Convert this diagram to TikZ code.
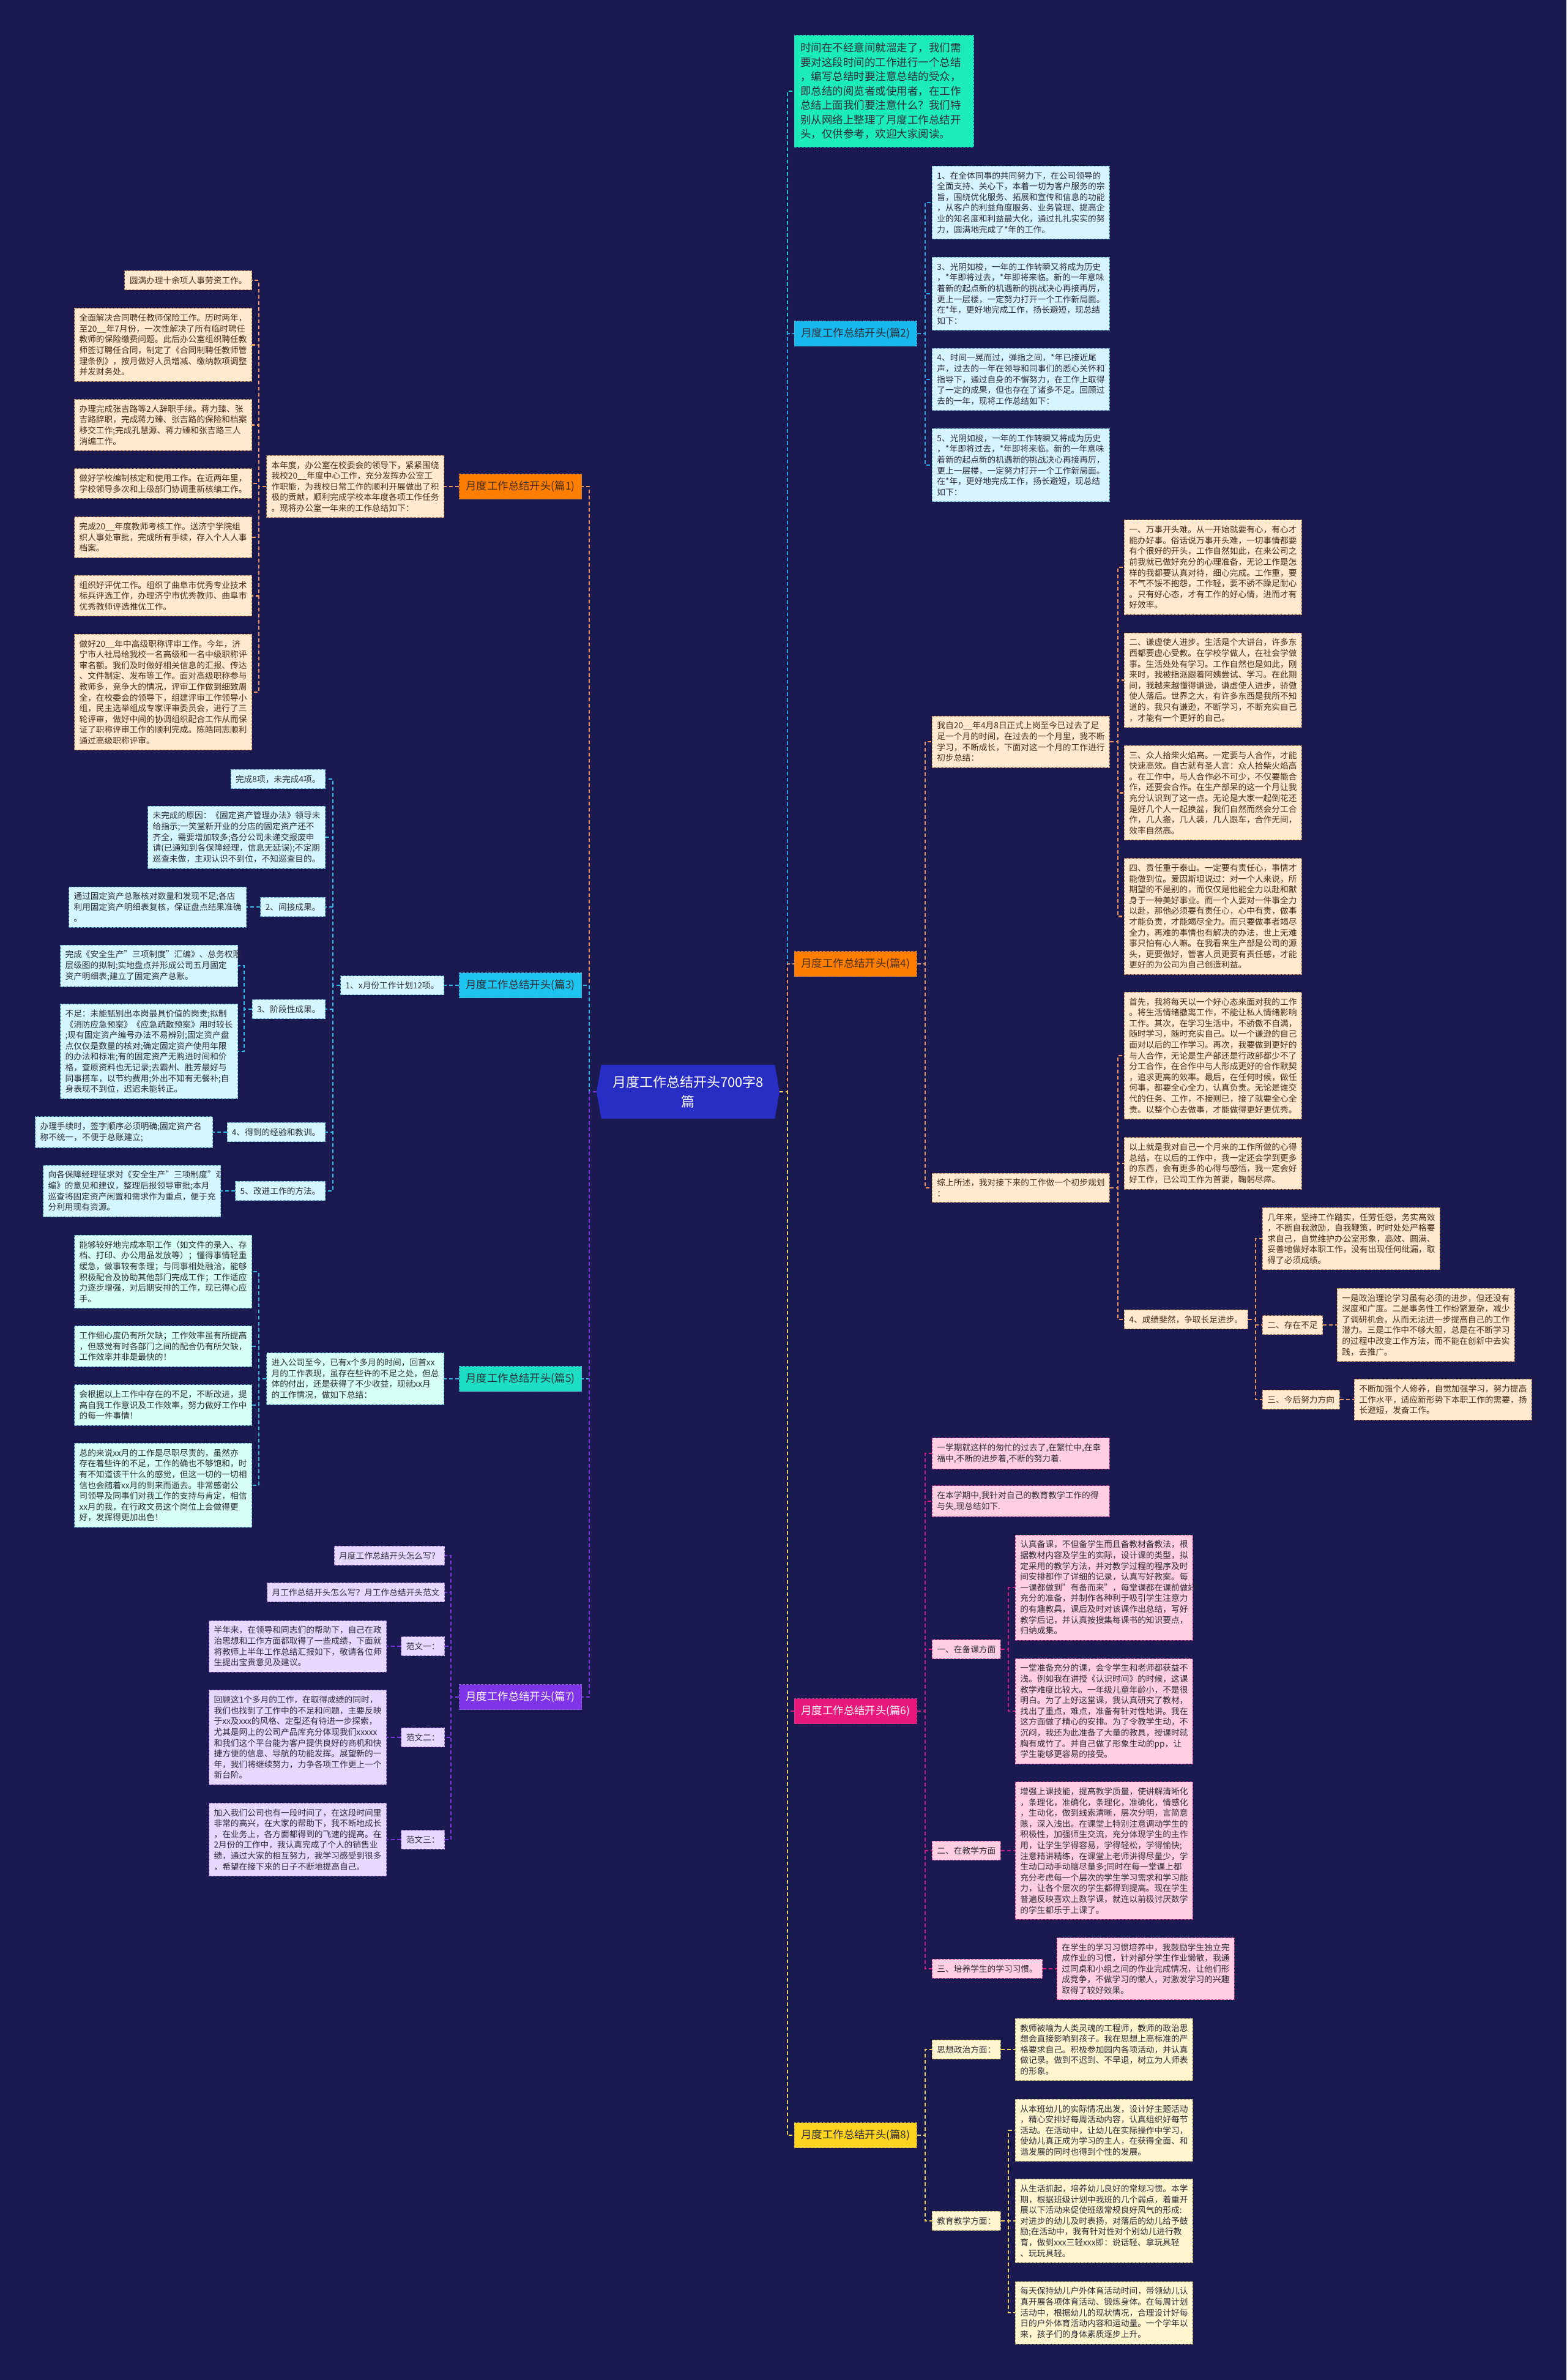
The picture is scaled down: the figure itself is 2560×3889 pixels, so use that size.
\documentclass[tikz,border=0pt]{standalone}
\usepackage{fontspec}
\setmainfont{Noto Sans CJK SC}
\usetikzlibrary{shapes.symbols}

\definecolor{bgnavy}{RGB}{26,26,80}
\definecolor{rootblue}{RGB}{40,46,196}
\definecolor{inkgray}{RGB}{45,45,55}
\definecolor{orfill}{RGB}{255,126,0}
\definecolor{orpale}{RGB}{255,234,208}
\definecolor{ordash}{RGB}{190,130,80}
\definecolor{orink}{RGB}{70,45,30}
\definecolor{orwire}{RGB}{236,150,95}
\definecolor{cyfill}{RGB}{30,196,240}
\definecolor{cypale}{RGB}{212,246,255}
\definecolor{cydash}{RGB}{90,170,205}
\definecolor{cywire}{RGB}{50,190,238}
\definecolor{bufill}{RGB}{22,184,238}
\definecolor{bupale}{RGB}{214,244,255}
\definecolor{buwire}{RGB}{40,165,230}
\definecolor{mtfill}{RGB}{28,222,196}
\definecolor{mtpale}{RGB}{214,255,246}
\definecolor{mtwire}{RGB}{60,180,225}
\definecolor{pufill}{RGB}{128,52,232}
\definecolor{pupale}{RGB}{230,216,255}
\definecolor{pudash}{RGB}{140,100,210}
\definecolor{puwire}{RGB}{125,55,225}
\definecolor{pkfill}{RGB}{232,24,124}
\definecolor{pkpale}{RGB}{255,206,226}
\definecolor{pkdash}{RGB}{200,60,140}
\definecolor{pkwire}{RGB}{205,30,130}
\definecolor{yefill}{RGB}{255,212,30}
\definecolor{yepale}{RGB}{255,246,208}
\definecolor{yedash}{RGB}{180,160,90}
\definecolor{yewire}{RGB}{238,208,90}
\definecolor{grfill}{RGB}{28,236,186}
\definecolor{grwire}{RGB}{40,205,190}

\newcommand\leaffont{\fontsize{13.7pt}{17.6pt}\selectfont}
\newcommand\topicfont{\fontsize{17.4pt}{21pt}\selectfont}
\newcommand\introfont{\fontsize{17.5pt}{23.5pt}\selectfont}
\newcommand\rootfont{\fontsize{22pt}{32pt}\selectfont}

\begin{document}
\begin{tikzpicture}[x=1pt,y=-1pt]
\tikzset{
  leaf/.style={rectangle,draw,dash pattern=on 4pt off 2pt,line width=0.9pt,inner xsep=8pt,inner ysep=9.2pt,font=\leaffont,align=left},
  widebox/.style={text width=274pt},
  topic/.style={rectangle,draw,dash pattern=on 4pt off 2pt,line width=0.9pt,minimum width=200pt,minimum height=41pt,inner sep=0pt,font=\topicfont},
  linkline/.style={line width=2.2pt,dash pattern=on 6pt off 4pt},
  rootnode/.style={signal,signal to=east and west,signal pointer angle=160,fill=rootblue,text=white,minimum width=299pt,minimum height=88pt,inner sep=2pt,font=\rootfont,align=center},
  introbox/.style={rectangle,draw=grwire,dash pattern=on 4pt off 2pt,line width=0.9pt,fill=grfill,text=inkgray,inner xsep=10pt,inner ysep=12.5pt,font=\introfont,align=left,text width=273pt},
  orleaf/.style={leaf,fill=orpale,draw=ordash,text=orink},
  cyleaf/.style={leaf,fill=cypale,draw=cydash,text=inkgray},
  buleaf/.style={leaf,fill=bupale,draw=cydash,text=inkgray},
  mtleaf/.style={leaf,fill=mtpale,draw=cydash,text=inkgray},
  puleaf/.style={leaf,fill=pupale,draw=pudash,text=inkgray},
  pkleaf/.style={leaf,fill=pkpale,draw=pkdash,text=inkgray},
  yeleaf/.style={leaf,fill=yepale,draw=yedash,text=inkgray},
  ortopic/.style={topic,fill=orfill,draw=ordash,text=orink},
  cytopic/.style={topic,fill=cyfill,draw=cydash,text=inkgray},
  butopic/.style={topic,fill=bufill,draw=cydash,text=inkgray},
  mttopic/.style={topic,fill=mtfill,draw=cydash,text=inkgray},
  putopic/.style={topic,fill=pufill,draw=pudash,text=white},
  pktopic/.style={topic,fill=pkfill,draw=pkdash,text=white},
  yetopic/.style={topic,fill=yefill,draw=yedash,text=inkgray}
}
\fill[bgnavy] (0,0) rectangle (2560,3889);
\useasboundingbox (0,0) rectangle (2560,3889);

\node[rootnode] (n_root) at (1124.5,1784) {月度工作总结开头700字8\\篇};

\node[introbox,anchor=west] (n_intro) at (1298,149) {时间在不经意间就溜走了，我们需\\要对这段时间的工作进行一个总结\\，编写总结时要注意总结的受众，\\即总结的阅览者或使用者，在工作\\总结上面我们要注意什么？我们特\\别从网络上整理了月度工作总结开\\头，仅供参考，欢迎大家阅读。};

\node[ortopic,anchor=east] (n_p1) at (951,795) {月度工作总结开头(篇1)};
\node[orleaf,widebox,anchor=east] (n_p1_lead) at (726,795) {本年度，办公室在校委会的领导下，紧紧围绕\\我校20\_\_年度中心工作，充分发挥办公室工\\作职能，为我校日常工作的顺利开展做出了积\\极的贡献，顺利完成学校本年度各项工作任务\\。现将办公室一年来的工作总结如下：};
\node[orleaf,anchor=east] (n_p1_a) at (412,458) {圆满办理十余项人事劳资工作。};
\node[orleaf,widebox,anchor=east] (n_p1_b) at (412,563.5) {全面解决合同聘任教师保险工作。历时两年，\\至20\_\_年7月份，一次性解决了所有临时聘任\\教师的保险缴费问题。此后办公室组织聘任教\\师签订聘任合同，制定了《合同制聘任教师管\\理条例》，按月做好人员增减、缴纳款项调整\\并发财务处。};
\node[orleaf,widebox,anchor=east] (n_p1_c) at (412,694.5) {办理完成张吉路等2人辞职手续。蒋力臻、张\\吉路辞职，完成蒋力臻、张吉路的保险和档案\\移交工作;完成孔慧源、蒋力臻和张吉路三人\\消编工作。};
\node[orleaf,widebox,anchor=east] (n_p1_d) at (412,790) {做好学校编制核定和使用工作。在近两年里，\\学校领导多次和上级部门协调重新核编工作。};
\node[orleaf,widebox,anchor=east] (n_p1_e) at (412,878) {完成20\_\_年度教师考核工作。送济宁学院组\\织人事处审批，完成所有手续，存入个人人事\\档案。};
\node[orleaf,widebox,anchor=east] (n_p1_f) at (412,973.5) {组织好评优工作。组织了曲阜市优秀专业技术\\标兵评选工作，办理济宁市优秀教师、曲阜市\\优秀教师评选推优工作。};
\node[orleaf,widebox,anchor=east] (n_p1_g) at (412,1131) {做好20\_\_年中高级职称评审工作。今年，济\\宁市人社局给我校一名高级和一名中级职称评\\审名额。我们及时做好相关信息的汇报、传达\\、文件制定、发布等工作。面对高级职称参与\\教师多，竞争大的情况，评审工作做到细致周\\全，在校委会的领导下，组建评审工作领导小\\组，民主选举组成专家评审委员会，进行了三\\轮评审，做好中间的协调组织配合工作从而保\\证了职称评审工作的顺利完成。陈皓同志顺利\\通过高级职称评审。};

\node[butopic,anchor=west] (n_p2) at (1298,545) {月度工作总结开头(篇2)};
\node[buleaf,widebox,anchor=west] (n_p2_a) at (1523,331) {1、在全体同事的共同努力下，在公司领导的\\全面支持、关心下，本着一切为客户服务的宗\\旨，围绕优化服务、拓展和宣传和信息的功能\\，从客户的利益角度服务、业务管理、提高企\\业的知名度和利益最大化，通过扎扎实实的努\\力，圆满地完成了*年的工作。};
\node[buleaf,widebox,anchor=west] (n_p2_b) at (1523,480) {3、光阴如梭，一年的工作转瞬又将成为历史\\，*年即将过去，*年即将来临。新的一年意味\\着新的起点新的机遇新的挑战决心再接再厉，\\更上一层楼，一定努力打开一个工作新局面。\\在*年，更好地完成工作，扬长避短，现总结\\如下：};
\node[buleaf,widebox,anchor=west] (n_p2_c) at (1523,620) {4、时间一晃而过，弹指之间，*年已接近尾\\声，过去的一年在领导和同事们的悉心关怀和\\指导下，通过自身的不懈努力，在工作上取得\\了一定的成果，但也存在了诸多不足。回顾过\\去的一年，现将工作总结如下：};
\node[buleaf,widebox,anchor=west] (n_p2_d) at (1523,760) {5、光阴如梭，一年的工作转瞬又将成为历史\\，*年即将过去，*年即将来临。新的一年意味\\着新的起点新的机遇新的挑战决心再接再厉，\\更上一层楼，一定努力打开一个工作新局面。\\在*年，更好地完成工作，扬长避短，现总结\\如下：};

\node[cytopic,anchor=east] (n_p3) at (951,1610) {月度工作总结开头(篇3)};
\node[cyleaf,anchor=east] (n_p3_lead) at (726,1610) {1、x月份工作计划12项。};
\node[cyleaf,anchor=east] (n_p3_a) at (532,1273) {完成8项，未完成4项。};
\node[cyleaf,widebox,anchor=east] (n_p3_b) at (532,1368) {未完成的原因：《固定资产管理办法》领导未\\给指示;一笑堂新开业的分店的固定资产还不\\齐全，需要增加较多;各分公司未递交报废申\\请(已通知到各保障经理，信息无延误);不定期\\巡查未做，主观认识不到位，不知巡查目的。};
\node[cyleaf,anchor=east] (n_p3_c) at (532,1482) {2、间接成果。};
\node[cyleaf,anchor=east] (n_p3_d) at (532,1649) {3、阶段性成果。};
\node[cyleaf,anchor=east] (n_p3_e) at (532,1850) {4、得到的经验和教训。};
\node[cyleaf,anchor=east] (n_p3_f) at (532,1946) {5、改进工作的方法。};
\node[cyleaf,widebox,anchor=east] (n_p3_c1) at (403,1482) {通过固定资产总账核对数量和发现不足;各店\\利用固定资产明细表复核，保证盘点结果准确\\。};
\node[cyleaf,widebox,anchor=east] (n_p3_d1) at (389,1578) {完成《安全生产"三项制度"汇编》、总务权限\\层级图的拟制;实地盘点并形成公司五月固定\\资产明细表;建立了固定资产总账。};
\node[cyleaf,widebox,anchor=east] (n_p3_d2) at (389,1718) {不足：未能甄别出本岗最具价值的岗责;拟制\\《消防应急预案》《应急疏散预案》用时较长\\;现有固定资产编号办法不易辨别;固定资产盘\\点仅仅是数量的核对;确定固定资产使用年限\\的办法和标准;有的固定资产无购进时间和价\\格，查原资料也无记录;去霸州、胜芳最好与\\同事搭车，以节约费用;外出不知有无餐补;自\\身表现不到位，迟迟未能转正。};
\node[cyleaf,widebox,anchor=east] (n_p3_e1) at (348,1850) {办理手续时，签字顺序必须明确;固定资产名\\称不统一，不便于总账建立;};
\node[cyleaf,widebox,anchor=east] (n_p3_f1) at (361,1946) {向各保障经理征求对《安全生产"三项制度"汇\\编》的意见和建议，整理后报领导审批;本月\\巡查将固定资产闲置和需求作为重点，便于充\\分利用现有资源。};

\node[ortopic,anchor=west] (n_p4) at (1298,1575) {月度工作总结开头(篇4)};
\node[orleaf,widebox,anchor=west] (n_p4_a) at (1523,1212) {我自20\_\_年4月8日正式上岗至今已过去了足\\足一个月的时间，在过去的一个月里，我不断\\学习，不断成长，下面对这一个月的工作进行\\初步总结：};
\node[orleaf,widebox,anchor=west] (n_p4_b) at (1523,1941) {综上所述，我对接下来的工作做一个初步规划\\：};
\node[orleaf,widebox,anchor=west] (n_p4_a1) at (1837,927) {一、万事开头难。从一开始就要有心，有心才\\能办好事。俗话说万事开头难，一切事情都要\\有个很好的开头，工作自然如此，在来公司之\\前我就已做好充分的心理准备，无论工作是怎\\样的我都要认真对待，细心完成。工作重，要\\不气不馁不抱怨，工作轻，要不骄不躁足耐心\\。只有好心态，才有工作的好心情，进而才有\\好效率。};
\node[orleaf,widebox,anchor=west] (n_p4_a2) at (1837,1111.5) {二、谦虚使人进步。生活是个大讲台，许多东\\西都要虚心受教。在学校学做人，在社会学做\\事。生活处处有学习。工作自然也是如此，刚\\来时，我被指派跟着阿姨尝试、学习。在此期\\间，我越来越懂得谦逊，谦虚使人进步，骄傲\\使人落后。世界之大，有许多东西是我所不知\\道的，我只有谦逊，不断学习，不断充实自己\\，才能有一个更好的自己。};
\node[orleaf,widebox,anchor=west] (n_p4_a3) at (1837,1295.5) {三、众人拾柴火焰高。一定要与人合作，才能\\快速高效。自古就有圣人言：众人拾柴火焰高\\。在工作中，与人合作必不可少，不仅要能合\\作，还要会合作。在生产部呆的这一个月让我\\充分认识到了这一点。无论是大家一起倒花还\\是好几个人一起换盆，我们自然而然会分工合\\作，几人搬，几人装，几人跟车，合作无间，\\效率自然高。};
\node[orleaf,widebox,anchor=west] (n_p4_a4) at (1837,1497.5) {四、责任重于泰山。一定要有责任心，事情才\\能做到位。爱因斯坦说过：对一个人来说，所\\期望的不是别的，而仅仅是他能全力以赴和献\\身于一种美好事业。而一个人要对一件事全力\\以赴，那他必须要有责任心，心中有责，做事\\才能负责，才能竭尽全力。而只要做事者竭尽\\全力，再难的事情也有解决的办法，世上无难\\事只怕有心人嘛。在我看来生产部是公司的源\\头，更要做好，管客人员更要有责任感，才能\\更好的为公司为自己创造利益。};
\node[orleaf,widebox,anchor=west] (n_p4_b1) at (1837,1725) {首先，我将每天以一个好心态来面对我的工作\\。将生活情绪撤离工作，不能让私人情绪影响\\工作。其次，在学习生活中，不骄傲不自满，\\随时学习，随时充实自己。以一个谦逊的自己\\面对以后的工作学习。再次，我要做到更好的\\与人合作，无论是生产部还是行政部都少不了\\分工合作，在合作中与人形成更好的合作默契\\，追求更高的效率。最后，在任何时候，做任\\何事，都要全心全力，认真负责。无论是谁交\\代的任务、工作，不接则已，接了就要全心全\\责。以整个心去做事，才能做得更好更优秀。};
\node[orleaf,widebox,anchor=west] (n_p4_b2) at (1837,1901) {以上就是我对自己一个月来的工作所做的心得\\总结，在以后的工作中，我一定还会学到更多\\的东西，会有更多的心得与感悟，我一定会好\\好工作，已公司工作为首要，鞠躬尽瘁。};
\node[orleaf,anchor=west] (n_p4_b3) at (1837,2156) {4、成绩斐然，争取长足进步。};
\node[orleaf,widebox,anchor=west] (n_p4_b3a) at (2063,2024) {几年来，坚持工作踏实，任劳任怨，务实高效\\，不断自我激励，自我鞭策，时时处处严格要\\求自己，自觉维护办公室形象，高效、圆满、\\妥善地做好本职工作，没有出现任何纰漏，取\\得了必须成绩。};
\node[orleaf,anchor=west] (n_p4_b3b) at (2063,2165) {二、存在不足};
\node[orleaf,anchor=west] (n_p4_b3c) at (2063,2287) {三、今后努力方向};
\node[orleaf,widebox,anchor=west] (n_p4_b3b1) at (2185,2165) {一是政治理论学习虽有必须的进步，但还没有\\深度和广度。二是事务性工作纷繁复杂，减少\\了调研机会，从而无法进一步提高自己的工作\\潜力。三是工作中不够大胆，总是在不断学习\\的过程中改变工作方法，而不能在创新中去实\\践，去推广。};
\node[orleaf,widebox,anchor=west] (n_p4_b3c1) at (2213,2287) {不断加强个人修养，自觉加强学习，努力提高\\工作水平，适应新形势下本职工作的需要，扬\\长避短，发奋工作。};

\node[mttopic,anchor=east] (n_p5) at (951,2253) {月度工作总结开头(篇5)};
\node[mtleaf,widebox,anchor=east] (n_p5_lead) at (726,2253) {进入公司至今，已有x个多月的时间，回首xx\\月的工作表现，虽存在些许的不足之处，但总\\体的付出，还是获得了不少收益，现就xx月\\的工作情况，做如下总结：};
\node[mtleaf,widebox,anchor=east] (n_p5_a) at (412,2078) {能够较好地完成本职工作（如文件的录入、存\\档、打印、办公用品发放等）；懂得事情轻重\\缓急，做事较有条理；与同事相处融洽，能够\\积极配合及协助其他部门完成工作；工作适应\\力逐步增强，对后期安排的工作，现已得心应\\手。};
\node[mtleaf,widebox,anchor=east] (n_p5_b) at (412,2200) {工作细心度仍有所欠缺；工作效率虽有所提高\\，但感觉有时各部门之间的配合仍有所欠缺，\\工作效率并非是最快的！};
\node[mtleaf,widebox,anchor=east] (n_p5_c) at (412,2296) {会根据以上工作中存在的不足，不断改进，提\\高自我工作意识及工作效率，努力做好工作中\\的每一件事情！};
\node[mtleaf,widebox,anchor=east] (n_p5_d) at (412,2427) {总的来说xx月的工作是尽职尽责的，虽然亦\\存在着些许的不足，工作的确也不够饱和，时\\有不知道该干什么的感觉，但这一切的一切相\\信也会随着xx月的到来而逝去。非常感谢公\\司领导及同事们对我工作的支持与肯定，相信\\xx月的我，在行政文员这个岗位上会做得更\\好，发挥得更加出色！};

\node[pktopic,anchor=west] (n_p6) at (1298,2796) {月度工作总结开头(篇6)};
\node[pkleaf,widebox,anchor=west] (n_p6_a) at (1523,2375) {一学期就这样的匆忙的过去了,在繁忙中,在幸\\福中,不断的进步着,不断的努力着.};
\node[pkleaf,widebox,anchor=west] (n_p6_b) at (1523,2453) {在本学期中,我针对自己的教育教学工作的得\\与失,现总结如下.};
\node[pkleaf,anchor=west] (n_p6_c) at (1523,2695) {一、在备课方面};
\node[pkleaf,anchor=west] (n_p6_d) at (1523,3024) {二、在教学方面};
\node[pkleaf,anchor=west] (n_p6_e) at (1523,3217) {三、培养学生的学习习惯。};
\node[pkleaf,widebox,anchor=west] (n_p6_c1) at (1659,2594) {认真备课，不但备学生而且备教材备教法，根\\据教材内容及学生的实际，设计课的类型，拟\\定采用的教学方法，并对教学过程的程序及时\\间安排都作了详细的记录，认真写好教案。每\\一课都做到"有备而来"，每堂课都在课前做好\\充分的准备，并制作各种利于吸引学生注意力\\的有趣教具，课后及时对该课作出总结，写好\\教学后记，并认真按搜集每课书的知识要点，\\归纳成集。};
\node[pkleaf,widebox,anchor=west] (n_p6_c2) at (1659,2796) {一堂准备充分的课，会令学生和老师都获益不\\浅。例如我在讲授《认识时间》的时候，这课\\教学难度比较大。一年级儿童年龄小，不是很\\明白。为了上好这堂课，我认真研究了教材，\\找出了重点，难点，准备有针对性地讲。我在\\这方面做了精心的安排。为了令教学生动，不\\沉闷，我还为此准备了大量的教具，授课时就\\胸有成竹了。并自己做了形象生动的pp，让\\学生能够更容易的接受。};
\node[pkleaf,widebox,anchor=west] (n_p6_d1) at (1659,3024) {增强上课技能，提高教学质量，使讲解清晰化\\，条理化，准确化，条理化，准确化，情感化\\，生动化，做到线索清晰，层次分明，言简意\\赅，深入浅出。在课堂上特别注意调动学生的\\积极性，加强师生交流，充分体现学生的主作\\用，让学生学得容易，学得轻松，学得愉快;\\注意精讲精练，在课堂上老师讲得尽量少，学\\生动口动手动脑尽量多;同时在每一堂课上都\\充分考虑每一个层次的学生学习需求和学习能\\力，让各个层次的学生都得到提高。现在学生\\普遍反映喜欢上数学课，就连以前极讨厌数学\\的学生都乐于上课了。};
\node[pkleaf,widebox,anchor=west] (n_p6_e1) at (1727,3217) {在学生的学习习惯培养中，我鼓励学生独立完\\成作业的习惯，针对部分学生作业懒散，我通\\过同桌和小组之间的作业完成情况，让他们形\\成竞争，不做学习的懒人，对激发学习的兴趣\\取得了较好效果。};

\node[putopic,anchor=east] (n_p7) at (951,2773) {月度工作总结开头(篇7)};
\node[puleaf,anchor=east] (n_p7_a) at (727,2542) {月度工作总结开头怎么写？};
\node[puleaf,anchor=east] (n_p7_b) at (727,2602) {月工作总结开头怎么写？月工作总结开头范文};
\node[puleaf,anchor=east] (n_p7_c) at (727,2690) {范文一：};
\node[puleaf,anchor=east] (n_p7_d) at (727,2839) {范文二：};
\node[puleaf,anchor=east] (n_p7_e) at (727,3006) {范文三：};
\node[puleaf,widebox,anchor=east] (n_p7_c1) at (632,2690) {半年来，在领导和同志们的帮助下，自己在政\\治思想和工作方面都取得了一些成绩，下面就\\将教师上半年工作总结汇报如下，敬请各位师\\生提出宝贵意见及建议。};
\node[puleaf,widebox,anchor=east] (n_p7_d1) at (632,2839) {回顾这1个多月的工作，在取得成绩的同时，\\我们也找到了工作中的不足和问题，主要反映\\于xx及xxx的风格、定型还有待进一步探索，\\尤其是网上的公司产品库充分体现我们xxxxx\\和我们这个平台能为客户提供良好的商机和快\\捷方便的信息、导航的功能发挥。展望新的一\\年，我们将继续努力，力争各项工作更上一个\\新台阶。};
\node[puleaf,widebox,anchor=east] (n_p7_e1) at (632,3006) {加入我们公司也有一段时间了，在这段时间里\\非常的高兴，在大家的帮助下，我不断地成长\\，在业务上，各方面都得到的飞速的提高。在\\2月份的工作中，我认真完成了个人的销售业\\绩，通过大家的相互努力，我学习感受到很多\\，希望在接下来的日子不断地提高自己。};

\node[yetopic,anchor=west] (n_p8) at (1298,3489) {月度工作总结开头(篇8)};
\node[yeleaf,anchor=west] (n_p8_a) at (1523,3349) {思想政治方面：};
\node[yeleaf,anchor=west] (n_p8_b) at (1523,3629) {教育教学方面：};
\node[yeleaf,widebox,anchor=west] (n_p8_a1) at (1659,3349) {教师被喻为人类灵魂的工程师，教师的政治思\\想会直接影响到孩子。我在思想上高标准的严\\格要求自己。积极参加园内各项活动，并认真\\做记录。做到不迟到、不早退，树立为人师表\\的形象。};
\node[yeleaf,widebox,anchor=west] (n_p8_b1) at (1659,3481) {从本班幼儿的实际情况出发，设计好主题活动\\，精心安排好每周活动内容，认真组织好每节\\活动。在活动中，让幼儿在实际操作中学习，\\使幼儿真正成为学习的主人，在获得全面、和\\谐发展的同时也得到个性的发展。};
\node[yeleaf,widebox,anchor=west] (n_p8_b2) at (1659,3629) {从生活抓起，培养幼儿良好的常规习惯。本学\\期，根据班级计划中我班的几个弱点，着重开\\展以下活动来促使班级常规良好风气的形成:\\对进步的幼儿及时表扬，对落后的幼儿给予鼓\\励;在活动中，我有针对性对个别幼儿进行教\\育，做到xxx三轻xxx即：说话轻、拿玩具轻\\、玩玩具轻。};
\node[yeleaf,widebox,anchor=west] (n_p8_b3) at (1659,3779) {每天保持幼儿户外体育活动时间，带领幼儿认\\真开展各项体育活动、锻炼身体。在每周计划\\活动中，根据幼儿的现状情况，合理设计好每\\日的户外体育活动内容和运动量。一个学年以\\来，孩子们的身体素质逐步上升。};

\draw[linkline,grwire] (n_root.east) -- ++(12.5,0) |- (n_intro.west);
\draw[linkline,orwire] (n_root.west) -- ++(-12,0) |- (n_p1.east);
\draw[linkline,orwire] (n_p1.west) -- (n_p1_lead.east);
\draw[linkline,orwire] (n_p1_lead.west) -- ++(-12.5,0) |- (n_p1_a.east);
\draw[linkline,orwire] (n_p1_lead.west) -- ++(-12.5,0) |- (n_p1_b.east);
\draw[linkline,orwire] (n_p1_lead.west) -- ++(-12.5,0) |- (n_p1_c.east);
\draw[linkline,orwire] (n_p1_lead.west) -- ++(-12.5,0) |- (n_p1_d.east);
\draw[linkline,orwire] (n_p1_lead.west) -- ++(-12.5,0) |- (n_p1_e.east);
\draw[linkline,orwire] (n_p1_lead.west) -- ++(-12.5,0) |- (n_p1_f.east);
\draw[linkline,orwire] (n_p1_lead.west) -- ++(-12.5,0) |- (n_p1_g.east);
\draw[linkline,buwire] (n_root.east) -- ++(12.5,0) |- (n_p2.west);
\draw[linkline,buwire] (n_p2.east) -- ++(13,0) |- (n_p2_a.west);
\draw[linkline,buwire] (n_p2.east) -- ++(13,0) |- (n_p2_b.west);
\draw[linkline,buwire] (n_p2.east) -- ++(13,0) |- (n_p2_c.west);
\draw[linkline,buwire] (n_p2.east) -- ++(13,0) |- (n_p2_d.west);
\draw[linkline,cywire] (n_root.west) -- ++(-12,0) |- (n_p3.east);
\draw[linkline,cywire] (n_p3.west) -- (n_p3_lead.east);
\draw[linkline,cywire] (n_p3_lead.west) -- ++(-12,0) |- (n_p3_a.east);
\draw[linkline,cywire] (n_p3_lead.west) -- ++(-12,0) |- (n_p3_b.east);
\draw[linkline,cywire] (n_p3_lead.west) -- ++(-12,0) |- (n_p3_c.east);
\draw[linkline,cywire] (n_p3_lead.west) -- ++(-12,0) |- (n_p3_d.east);
\draw[linkline,cywire] (n_p3_lead.west) -- ++(-12,0) |- (n_p3_e.east);
\draw[linkline,cywire] (n_p3_lead.west) -- ++(-12,0) |- (n_p3_f.east);
\draw[linkline,cywire] (n_p3_c.west) -- (n_p3_c1.east);
\draw[linkline,cywire] (n_p3_d.west) -- ++(-13,0) |- (n_p3_d1.east);
\draw[linkline,cywire] (n_p3_d.west) -- ++(-13,0) |- (n_p3_d2.east);
\draw[linkline,cywire] (n_p3_e.west) -- (n_p3_e1.east);
\draw[linkline,cywire] (n_p3_f.west) -- (n_p3_f1.east);
\draw[linkline,orwire] (n_root.east) -- ++(12.5,0) |- (n_p4.west);
\draw[linkline,orwire] (n_p4.east) -- ++(13,0) |- (n_p4_a.west);
\draw[linkline,orwire] (n_p4.east) -- ++(13,0) |- (n_p4_b.west);
\draw[linkline,orwire] (n_p4_a.east) -- ++(13,0) |- (n_p4_a1.west);
\draw[linkline,orwire] (n_p4_a.east) -- ++(13,0) |- (n_p4_a2.west);
\draw[linkline,orwire] (n_p4_a.east) -- ++(13,0) |- (n_p4_a3.west);
\draw[linkline,orwire] (n_p4_a.east) -- ++(13,0) |- (n_p4_a4.west);
\draw[linkline,orwire] (n_p4_b.east) -- ++(13,0) |- (n_p4_b1.west);
\draw[linkline,orwire] (n_p4_b.east) -- ++(13,0) |- (n_p4_b2.west);
\draw[linkline,orwire] (n_p4_b.east) -- ++(13,0) |- (n_p4_b3.west);
\draw[linkline,orwire] (n_p4_b3.east) -- ++(12,0) |- (n_p4_b3a.west);
\draw[linkline,orwire] (n_p4_b3.east) -- ++(12,0) |- (n_p4_b3b.west);
\draw[linkline,orwire] (n_p4_b3.east) -- ++(12,0) |- (n_p4_b3c.west);
\draw[linkline,orwire] (n_p4_b3b.east) -- (n_p4_b3b1.west);
\draw[linkline,orwire] (n_p4_b3c.east) -- (n_p4_b3c1.west);
\draw[linkline,mtwire] (n_root.west) -- ++(-12,0) |- (n_p5.east);
\draw[linkline,mtwire] (n_p5.west) -- (n_p5_lead.east);
\draw[linkline,mtwire] (n_p5_lead.west) -- ++(-12.5,0) |- (n_p5_a.east);
\draw[linkline,mtwire] (n_p5_lead.west) -- ++(-12.5,0) |- (n_p5_b.east);
\draw[linkline,mtwire] (n_p5_lead.west) -- ++(-12.5,0) |- (n_p5_c.east);
\draw[linkline,mtwire] (n_p5_lead.west) -- ++(-12.5,0) |- (n_p5_d.east);
\draw[linkline,pkwire] (n_root.east) -- ++(12.5,0) |- (n_p6.west);
\draw[linkline,pkwire] (n_p6.east) -- ++(13,0) |- (n_p6_a.west);
\draw[linkline,pkwire] (n_p6.east) -- ++(13,0) |- (n_p6_b.west);
\draw[linkline,pkwire] (n_p6.east) -- ++(13,0) |- (n_p6_c.west);
\draw[linkline,pkwire] (n_p6.east) -- ++(13,0) |- (n_p6_d.west);
\draw[linkline,pkwire] (n_p6.east) -- ++(13,0) |- (n_p6_e.west);
\draw[linkline,pkwire] (n_p6_c.east) -- ++(12.5,0) |- (n_p6_c1.west);
\draw[linkline,pkwire] (n_p6_c.east) -- ++(12.5,0) |- (n_p6_c2.west);
\draw[linkline,pkwire] (n_p6_d.east) -- (n_p6_d1.west);
\draw[linkline,pkwire] (n_p6_e.east) -- (n_p6_e1.west);
\draw[linkline,puwire] (n_root.west) -- ++(-12,0) |- (n_p7.east);
\draw[linkline,puwire] (n_p7.west) -- ++(-13,0) |- (n_p7_a.east);
\draw[linkline,puwire] (n_p7.west) -- ++(-13,0) |- (n_p7_b.east);
\draw[linkline,puwire] (n_p7.west) -- ++(-13,0) |- (n_p7_c.east);
\draw[linkline,puwire] (n_p7.west) -- ++(-13,0) |- (n_p7_d.east);
\draw[linkline,puwire] (n_p7.west) -- ++(-13,0) |- (n_p7_e.east);
\draw[linkline,puwire] (n_p7_c.west) -- (n_p7_c1.east);
\draw[linkline,puwire] (n_p7_d.west) -- (n_p7_d1.east);
\draw[linkline,puwire] (n_p7_e.west) -- (n_p7_e1.east);
\draw[linkline,yewire] (n_root.east) -- ++(12.5,0) |- (n_p8.west);
\draw[linkline,yewire] (n_p8.east) -- ++(13,0) |- (n_p8_a.west);
\draw[linkline,yewire] (n_p8.east) -- ++(13,0) |- (n_p8_b.west);
\draw[linkline,yewire] (n_p8_a.east) -- (n_p8_a1.west);
\draw[linkline,yewire] (n_p8_b.east) -- ++(12.5,0) |- (n_p8_b1.west);
\draw[linkline,yewire] (n_p8_b.east) -- ++(12.5,0) |- (n_p8_b2.west);
\draw[linkline,yewire] (n_p8_b.east) -- ++(12.5,0) |- (n_p8_b3.west);
\end{tikzpicture}
\end{document}
